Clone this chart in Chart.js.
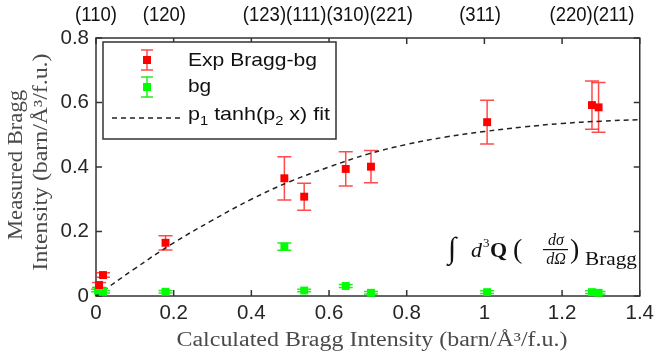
<!DOCTYPE html>
<html><head><meta charset="utf-8">
<script src="https://cdn.jsdelivr.net/npm/chart.js@4/dist/chart.umd.min.js"></script>
<style>html,body{margin:0;padding:0;background:#fff;overflow:hidden}</style>
</head><body>
<canvas id="c" width="659" height="362" style="display:block;width:659px;height:362px"></canvas>
<script>
// ---- data ----
const calcX   = [0.008, 0.018, 0.179, 0.485, 0.536, 0.643, 0.708, 1.007, 1.277, 1.294];
const expY    = [0.034, 0.065, 0.165, 0.365, 0.308, 0.394, 0.401, 0.539, 0.592, 0.585];
const expErr  = [0.008, 0.007, 0.022, 0.067, 0.042, 0.053, 0.050, 0.068, 0.075, 0.077];
const bgX     = [0.005, 0.018, 0.179, 0.485, 0.536, 0.643, 0.708, 1.007, 1.277, 1.294];
const bgY     = [0.017, 0.013, 0.013, 0.153, 0.017, 0.031, 0.010, 0.012, 0.012, 0.010];
const bgErr   = [0.004, 0.004, 0.004, 0.011, 0.004, 0.005, 0.004, 0.004, 0.004, 0.004];
const fitX    = [0, 0.1, 0.2, 0.3, 0.4, 0.5, 0.6, 0.7, 0.8, 0.9, 1.0, 1.1, 1.2, 1.3, 1.4];
const fitY    = [0, 0.085, 0.165, 0.235, 0.300, 0.355, 0.400, 0.440, 0.470, 0.493, 0.510, 0.524, 0.535, 0.542, 0.547];
const xTicks  = [0, 0.2, 0.4, 0.6, 0.8, 1, 1.2, 1.4];
const yTicks  = [0, 0.2, 0.4, 0.6, 0.8];
const reflLabels = ['(110)', '(120)', '(123)(111)(310)(221)', '(311)', '(220)(211)'];
const reflPos    = [0, 0.176, 0.597, 0.989, 1.277];
const seriesNames = ['Exp Bragg-bg', 'bg'];

const RED = '#ff0000', GREEN = '#00ff00', AX = '#333333';
const SANS = '"Liberation Sans", Arial, sans-serif';
const SERIF = '"Liberation Serif", "DejaVu Serif", serif';

function fitText(ctx, txt, font, x, y, w, align) {
  ctx.font = font;
  const m = ctx.measureText(txt).width;
  ctx.save();
  ctx.translate(x, y);
  ctx.scale(w / m, 1);
  ctx.textAlign = align || 'left';
  ctx.fillText(txt, 0, 0);
  ctx.restore();
}

function errBars(ctx, xs, ys, es, sx, sy, color, cap) {
  ctx.save();
  ctx.strokeStyle = color; ctx.lineWidth = 1.5;
  for (let i = 0; i < xs.length; i++) {
    const px = sx.getPixelForValue(xs[i]);
    const t = sy.getPixelForValue(ys[i] + es[i]);
    const b = sy.getPixelForValue(ys[i] - es[i]);
    ctx.beginPath();
    ctx.moveTo(px, t); ctx.lineTo(px, b);
    ctx.moveTo(px - cap, t); ctx.lineTo(px + cap, t);
    ctx.moveTo(px - cap, b); ctx.lineTo(px + cap, b);
    ctx.stroke();
  }
  ctx.restore();
}

const deco = {
  id: 'deco',
  beforeDatasetsDraw(chart) {
    const {ctx, chartArea: a, scales: {x, y}} = chart;
    ctx.save();
    ctx.strokeStyle = AX; ctx.lineWidth = 1.5;
    ctx.strokeRect(a.left, a.top, a.right - a.left, a.bottom - a.top);
    ctx.beginPath();
    xTicks.forEach(v => {
      const p = x.getPixelForValue(v);
      ctx.moveTo(p, a.bottom); ctx.lineTo(p, a.bottom - 6);
      ctx.moveTo(p, a.top); ctx.lineTo(p, a.top + 6);
    });
    yTicks.forEach(v => {
      const p = y.getPixelForValue(v);
      ctx.moveTo(a.left, p); ctx.lineTo(a.left + 6, p);
      ctx.moveTo(a.right, p); ctx.lineTo(a.right - 6, p);
    });
    ctx.stroke();
    ctx.restore();
    errBars(ctx, calcX, expY, expErr, x, y, 'rgba(255,30,30,0.8)', 7);
    errBars(ctx, bgX, bgY, bgErr, x, y, 'rgba(0,230,0,0.85)', 7);
  },
  afterDraw(chart) {
    const {ctx, chartArea: a, scales: {x, y}} = chart;
    ctx.save();
    // top reflection labels
    ctx.fillStyle = '#111';
    ctx.textAlign = 'center'; ctx.textBaseline = 'middle';
    reflLabels.forEach((t, i) => {
      ctx.save();
      ctx.translate(x.getPixelForValue(reflPos[i]), 15);
      ctx.scale(1, 1.12);
      ctx.font = '18.5px ' + SANS;
      ctx.fillText(t, 0, 0);
      ctx.restore();
    });

    // axis titles
    ctx.fillStyle = '#4a4a4a';
    ctx.textBaseline = 'middle';
    fitText(ctx, 'Calculated Bragg Intensity (barn/Å³/f.u.)', '20px ' + SERIF, 372, 341, 391, 'center');
    ctx.save();
    ctx.translate(17, 165); ctx.rotate(-Math.PI / 2);
    fitText(ctx, 'Measured Bragg', '20px ' + SERIF, 0, 0, 150, 'center');
    ctx.restore();
    ctx.save();
    ctx.translate(42, 162); ctx.rotate(-Math.PI / 2);
    fitText(ctx, 'Intensity (barn/Å³/f.u.)', '20px ' + SERIF, 0, 0, 217, 'center');
    ctx.restore();

    // legend
    const L = 103, T = 42, R = 336, B = 139;
    ctx.fillStyle = '#fff';
    ctx.fillRect(L, T, R - L, B - T);
    ctx.strokeStyle = AX; ctx.lineWidth = 1.5;
    ctx.strokeRect(L, T, R - L, B - T);
    const mx = 147;
    const rows = [60, 87];
    const cols = [[RED, 'rgba(255,30,30,0.8)'], [GREEN, 'rgba(0,230,0,0.85)']];
    rows.forEach((ry, i) => {
      ctx.strokeStyle = cols[i][1]; ctx.lineWidth = 1.5;
      ctx.beginPath();
      ctx.moveTo(mx, ry - 10); ctx.lineTo(mx, ry + 10);
      ctx.moveTo(mx - 6, ry - 10); ctx.lineTo(mx + 6, ry - 10);
      ctx.moveTo(mx - 6, ry + 10); ctx.lineTo(mx + 6, ry + 10);
      ctx.stroke();
      ctx.fillStyle = cols[i][0];
      ctx.fillRect(mx - 4, ry - 4, 8, 8);
    });
    ctx.fillStyle = '#111';
    ctx.textBaseline = 'middle';
    fitText(ctx, seriesNames[0], '19px ' + SANS, 188, 61, 129, 'left');
    ctx.font = '19px ' + SANS;
    ctx.textAlign = 'left';
    ctx.save(); ctx.translate(188, 87); ctx.scale(1.1, 1); ctx.fillText(seriesNames[1], 0, 0); ctx.restore();
    ctx.strokeStyle = '#222'; ctx.lineWidth = 1.5; ctx.setLineDash([5, 4]);
    ctx.beginPath(); ctx.moveTo(112, 118); ctx.lineTo(180, 118); ctx.stroke();
    ctx.setLineDash([]);
    const parts = [['p', 0], ['1', 1], [' tanh(p', 0], ['2', 1], [' x) fit', 0]];
    const fN = '19px ' + SANS, fS = '13px ' + SANS;
    let tot = 0;
    parts.forEach(p => { ctx.font = p[1] ? fS : fN; tot += ctx.measureText(p[0]).width; });
    const sc = 142 / tot;
    ctx.save(); ctx.translate(188, 115); ctx.scale(sc, 1);
    let cx = 0;
    parts.forEach(p => {
      ctx.font = p[1] ? fS : fN;
      ctx.fillText(p[0], cx, p[1] ? 6 : 0);
      cx += ctx.measureText(p[0]).width;
    });
    ctx.restore();

    // formula annotation
    ctx.fillStyle = '#111';
    ctx.textBaseline = 'alphabetic'; ctx.textAlign = 'left';
    ctx.font = '30px ' + SERIF; ctx.fillText('∫', 448, 258);
    ctx.font = 'italic 22px ' + SERIF; ctx.fillText('d', 471, 257);
    ctx.font = '13px ' + SERIF; ctx.fillText('3', 483, 247);
    ctx.font = 'bold 22px ' + SERIF; ctx.fillText('Q', 490, 257);
    ctx.font = '28px ' + SERIF; ctx.fillText('(', 513, 258); ctx.fillText(')', 570, 258);
    ctx.textAlign = 'center';
    ctx.font = 'italic 16px ' + SERIF; ctx.fillText('dσ', 556, 245);
    ctx.fillText('dΩ', 556, 264);
    ctx.fillRect(543, 249, 25, 1.2);
    ctx.textAlign = 'left';
    fitText(ctx, 'Bragg', '19px ' + SERIF, 585, 265, 52, 'left');
    ctx.restore();
  }
};

new Chart(document.getElementById('c'), {
  type: 'scatter',
  data: {
    datasets: [
      { label: 'p1 tanh(p2 x) fit', data: fitX.map((v, i) => ({x: v, y: fitY[i]})), showLine: true,
        borderColor: '#222', borderWidth: 1.5, borderDash: [5, 4], pointRadius: 0, fill: false, tension: 0.4, order: 3 },
      { label: seriesNames[1], data: bgX.map((v, i) => ({x: v, y: bgY[i]})), pointStyle: 'rect', pointRadius: 5.6,
        backgroundColor: GREEN, borderColor: GREEN, borderWidth: 0, clip: false, order: 2 },
      { label: seriesNames[0], data: calcX.map((v, i) => ({x: v, y: expY[i]})), pointStyle: 'rect', pointRadius: 5.6,
        backgroundColor: RED, borderColor: RED, borderWidth: 0, clip: false, order: 1 }
    ]
  },
  options: {
    responsive: false, animation: false,
    layout: { padding: { top: 38, right: 15, left: 0, bottom: 0 } },
    plugins: { legend: { display: false }, tooltip: { enabled: false } },
    scales: {
      x: {
        type: 'linear', min: 0, max: 1.4,
        afterBuildTicks: s => { s.ticks = xTicks.map(v => ({value: v})); },
        afterFit: s => { s.height = 66; },
        grid: { display: false, drawTicks: false }, border: { display: false },
        ticks: { color: '#262626', font: { family: SANS, size: 20.5 }, padding: 5, maxRotation: 0,
                 callback: v => String(v) }
      },
      y: {
        type: 'linear', min: 0, max: 0.8,
        afterBuildTicks: s => { s.ticks = yTicks.map(v => ({value: v})); },
        afterFit: s => { s.width = 96; },
        grid: { display: false, drawTicks: false }, border: { display: false },
        ticks: { color: '#262626', font: { family: SANS, size: 20.5 }, padding: 7,
                 callback: v => String(v) }
      }
    }
  },
  plugins: [deco]
});
</script>
</body></html>
